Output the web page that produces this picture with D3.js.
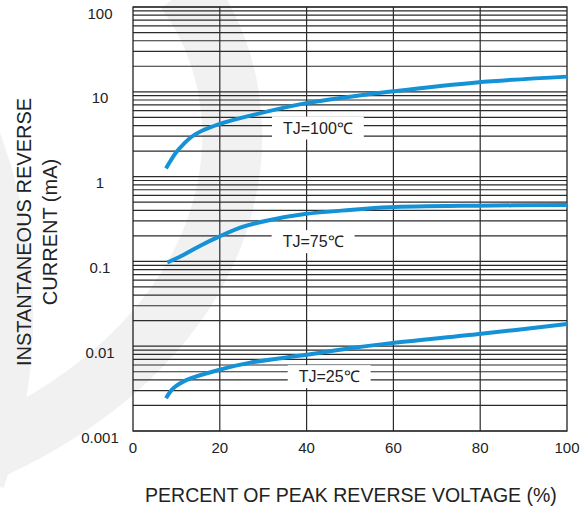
<!DOCTYPE html>
<html>
<head>
<meta charset="utf-8">
<script src="https://cdn.jsdelivr.net/npm/d3@7"></script>
<style>
  html, body { margin: 0; padding: 0; background: #fff; }
  text { font-family: "Liberation Sans", Arial, sans-serif; fill: #222; }
</style>
</head>
<body>
<div id="svg-area"></div>
<script>
// chart data
var pctVoltage100 = [7.6, 8.7, 10, 11.6, 13.5, 16, 19.7, 27, 39.6, 50, 59, 79.2, 100];
var current100 = [1.25, 1.55, 1.95, 2.4, 2.95, 3.5, 4.14, 5.23, 7.3, 8.75, 10.0, 12.9, 15.1];

var pctVoltage75 = [7.9, 11.6, 15.4, 19.8, 25.4, 31.6, 39.6, 50, 59, 79.2, 100];
var current75 = [0.097, 0.119, 0.152, 0.196, 0.257, 0.308, 0.362, 0.404, 0.434, 0.454, 0.462];

var pctVoltage25 = [7.6, 9.3, 12.4, 19.8, 27, 39.6, 50, 59, 79.2, 100];
var current25 = [0.00243, 0.00319, 0.0040, 0.00524, 0.0064, 0.00787, 0.00944, 0.0108, 0.0138, 0.0183];

// curve labels
var curveLabels = ["TJ=100\u2103", "TJ=75\u2103", "TJ=25\u2103"];
var labelPct = [42.6, 41.5, 45.2];
var labelCurrent = [3.74, 0.171, 0.00437];

// tick labels
var xTicks = [0, 20, 40, 60, 80, 100];
var yTicks = [0.001, 0.01, 0.1, 1, 10, 100];
var yTickLabels = ["0.001", "0.01", "0.1", "1", "10", "100"];

// define dimensions of svg container
var svgWidth = 588;
var svgHeight = 508;

var plot = { left: 133, right: 567, top: 7, bottom: 431 };

var svg = d3.select("#svg-area").append("svg")
    .attr("width", svgWidth)
    .attr("height", svgHeight);

svg.append("rect")
    .attr("width", svgWidth)
    .attr("height", svgHeight)
    .attr("fill", "#fff");

// faint watermark behind the chart
var mark = svg.append("g").attr("fill", "none").attr("stroke", "#f1f1f1");
mark.append("path")
    .attr("d", "M185,-10 C275,110 250,330 -10,450")
    .attr("stroke-width", 60);
mark.append("path")
    .attr("d", "M-40,100 Q45,290 -20,480")
    .attr("stroke-width", 50);

// scales
var xScale = d3.scaleLinear()
    .domain([0, 100])
    .range([plot.left, plot.right]);

var yScale = d3.scaleLog()
    .domain([0.001, 100])
    .range([plot.bottom, plot.top]);

// horizontal grid: 1..9 per decade
var gridValues = [];
d3.range(-3, 2).forEach(function (p) {
    d3.range(1, 10).forEach(function (k) {
        gridValues.push(k * Math.pow(10, p));
    });
});
gridValues.push(100);

var grid = svg.append("g")
    .attr("stroke", "#2b2b2b")
    .attr("stroke-width", 1.2);

grid.selectAll("line.h")
    .data(gridValues)
    .enter()
    .append("line")
    .attr("class", "h")
    .attr("x1", plot.left)
    .attr("x2", plot.right)
    .attr("y1", d => yScale(d))
    .attr("y2", d => yScale(d));

grid.selectAll("line.v")
    .data(xTicks.slice(1, -1))
    .enter()
    .append("line")
    .attr("class", "v")
    .attr("x1", d => xScale(d))
    .attr("x2", d => xScale(d))
    .attr("y1", plot.top)
    .attr("y2", plot.bottom);

// frame
svg.append("rect")
    .attr("x", plot.left)
    .attr("y", plot.top)
    .attr("width", plot.right - plot.left)
    .attr("height", plot.bottom - plot.top)
    .attr("fill", "none")
    .attr("stroke", "#222")
    .attr("stroke-width", 1.3);

// curve labels with white boxes that break the grid
var labelGroup = svg.append("g");
curveLabels.forEach(function (txt, i) {
    var g = labelGroup.append("g");
    var box = g.append("rect").attr("fill", "#fff");
    var t = g.append("text")
        .attr("x", xScale(labelPct[i]))
        .attr("y", yScale(labelCurrent[i]))
        .attr("text-anchor", "middle")
        .attr("dominant-baseline", "central")
        .attr("font-size", "16px")
        .text(txt);
    var bb = t.node().getBBox();
    box.attr("x", bb.x - 11)
        .attr("y", bb.y - 3)
        .attr("width", bb.width + 22)
        .attr("height", bb.height + 6);
});

// curves
var line = d3.line()
    .x(d => xScale(d[0]))
    .y(d => yScale(d[1]))
    .curve(d3.curveCatmullRom.alpha(0.5));

var series = [
    d3.zip(pctVoltage100, current100),
    d3.zip(pctVoltage75, current75),
    d3.zip(pctVoltage25, current25)
];

svg.append("g").selectAll("path")
    .data(series)
    .enter()
    .append("path")
    .attr("d", line)
    .attr("fill", "none")
    .attr("stroke", "#1592d6")
    .attr("stroke-width", 4);

// y tick labels
svg.append("g").selectAll("text")
    .data(yTicks)
    .enter()
    .append("text")
    .attr("x", 100)
    .attr("y", d => yScale(d) + 6)
    .attr("text-anchor", "middle")
    .attr("dominant-baseline", "central")
    .attr("font-size", "15px")
    .text((d, i) => yTickLabels[i]);

// x tick labels
svg.append("g").selectAll("text")
    .data(xTicks)
    .enter()
    .append("text")
    .attr("x", d => xScale(d))
    .attr("y", plot.bottom + 16)
    .attr("text-anchor", "middle")
    .attr("dominant-baseline", "central")
    .attr("font-size", "15px")
    .text(d => d);

// axis titles
svg.append("text")
    .attr("x", 351)
    .attr("y", 502)
    .attr("text-anchor", "middle")
    .attr("font-size", "19.5px")
    .text("PERCENT OF PEAK REVERSE VOLTAGE (%)");

var yTitle = svg.append("g")
    .attr("transform", "translate(0, 232) rotate(-90)");

yTitle.append("text")
    .attr("x", 0)
    .attr("y", 31)
    .attr("text-anchor", "middle")
    .attr("font-size", "20px")
    .text("INSTANTANEOUS REVERSE");

yTitle.append("text")
    .attr("x", 0)
    .attr("y", 57)
    .attr("text-anchor", "middle")
    .attr("font-size", "20px")
    .text("CURRENT (mA)");
</script>
</body>
</html>
